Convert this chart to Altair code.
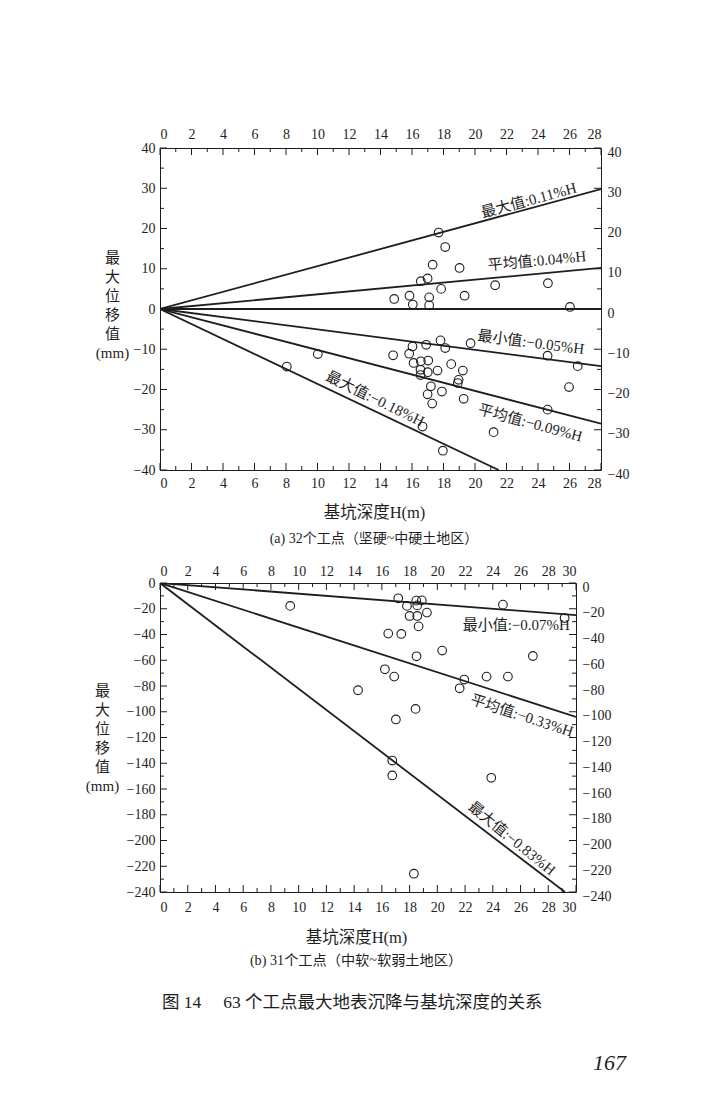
import altair as alt
import pandas as pd

SERIF = "Liberation Serif, Noto Sans CJK SC"
INK = "#1e1e1e"

# ---------------- (a) 32 sites, hard soil ----------------
a_H = [17.69, 18.11, 17.31, 19.02, 16.56, 16.99, 17.85, 21.28, 24.63, 14.87, 15.84, 16.05,
       17.09, 17.09, 19.34, 26.03,
       8.05, 10.02, 14.80, 16.03, 15.82, 16.90, 17.81, 18.11, 19.72, 24.61, 26.52, 16.10,
       16.56, 17.03, 18.49, 16.54, 17.00, 17.62, 19.23, 16.54, 18.96, 18.91, 17.20, 16.99,
       17.90, 17.28, 19.28, 25.97, 24.61, 16.67, 21.18, 17.96]
a_D = [19.0, 15.4, 11.0, 10.2, 6.9, 7.6, 5.0, 5.9, 6.4, 2.5, 3.3, 1.1,
       2.9, 0.9, 3.3, 0.5,
       -14.3, -11.2, -11.5, -9.3, -11.1, -8.9, -7.8, -9.7, -8.5, -11.6, -14.2, -13.4,
       -13.0, -12.8, -13.7, -15.1, -15.7, -15.3, -15.3, -16.4, -17.6, -18.4, -19.2, -21.2,
       -20.5, -23.5, -22.3, -19.4, -25.0, -29.2, -30.6, -35.2]
a_line_names = ["max+", "avg+", "zero", "min-", "avg-", "max-"]
a_line_endH = [28, 28, 28, 28, 28, 21.5]
a_line_endD = [29.8, 10.2, 0.0, -14.2, -28.5, -40.0]
a_note_text = ["最大值:0.11%H", "平均值:0.04%H", "最小值:−0.05%H", "平均值:−0.09%H", "最大值:−0.18%H"]
a_note_H = [23.42, 23.93, 23.55, 23.51, 13.66]
a_note_D = [27.0, 12.0, -8.3, -28.3, -22.3]
a_note_angle = [344.8, 354.7, 7.3, 15.0, 26.0]
a_x_major = [0, 2, 4, 6, 8, 10, 12, 14, 16, 18, 20, 22, 24, 26, 28]
a_x_minor = [1, 3, 5, 7, 9, 11, 13, 15, 17, 19, 21, 23, 25, 27]
a_y_major = [-40, -30, -20, -10, 0, 10, 20, 30, 40]
a_y_minor = [-35, -25, -15, -5, 5, 15, 25, 35]

# ---------------- (b) 31 sites, soft soil ----------------
b_H = [9.39, 17.18, 17.81, 18.48, 18.88, 18.55, 18.00, 18.55, 19.25, 18.65, 24.73, 29.18,
       16.46, 17.40, 20.35, 18.50, 26.89, 16.22, 16.89, 21.94, 23.55, 25.09, 21.61, 14.28,
       18.43, 17.01, 16.75, 16.75, 23.89, 18.31]
b_D = [-17.8, -11.9, -17.8, -13.7, -13.5, -17.4, -25.6, -25.6, -23.0, -33.7, -16.8, -27.2,
       -39.3, -39.6, -52.5, -56.9, -56.7, -67.0, -72.7, -75.0, -72.7, -72.7, -81.8, -83.3,
       -97.8, -106.0, -137.9, -149.5, -151.3, -225.8]
b_line_names = ["min", "avg", "max"]
b_line_endH = [30, 30, 29.2]
b_line_endD = [-25.0, -104.0, -240.0]
b_note_text = ["最小值:−0.07%H", "平均值:−0.33%H", "最大值:−0.83%H"]
b_note_H = [25.69, 26.1, 25.38]
b_note_D = [-32.4, -103.0, -198.4]
b_note_angle = [0.0, 18.0, 39.0]
b_x_major = [0, 2, 4, 6, 8, 10, 12, 14, 16, 18, 20, 22, 24, 26, 28, 30]
b_x_minor = [1, 3, 5, 7, 9, 11, 13, 15, 17, 19, 21, 23, 25, 27, 29]
b_y_major = [-240, -220, -200, -180, -160, -140, -120, -100, -80, -60, -40, -20, 0]
b_y_minor = [-230, -210, -190, -170, -150, -130, -110, -90, -70, -50, -30, -10]

Y_TITLE = ["最", "大", "位", "移", "值", "(mm)"]
X_TITLE = "基坑深度H(m)"
CAP_A = "(a) 32个工点（坚硬~中硬土地区）"
CAP_B = "(b) 31个工点（中软~软弱土地区）"
FIG_CAP = "图 14　 63 个工点最大地表沉降与基坑深度的关系"
PAGE_NO = "167"


def panel(H_, D_, lnames, lendH, lendD, ntext, nH, nD, nang,
          xdom, ydom, xmaj, xmin, ymaj, ymin, W, Ht,
          ytx, yty, xtx, xty, top_pad, bot_pad, texts):
    xs = alt.Scale(domain=xdom, nice=False, zero=False)
    ys = alt.Scale(domain=ydom, nice=False, zero=False)
    x0, x1 = xdom
    y0, y1 = ydom

    pts = pd.DataFrame({"H": H_, "D": D_})
    rows = []
    for n, eh, ed in zip(lnames, lendH, lendD):
        rows.append({"name": n, "H": 0, "D": 0, "o": 0})
        rows.append({"name": n, "H": eh, "D": ed, "o": 1})
    lines = pd.DataFrame(rows)
    notes = pd.DataFrame({"t": ntext, "H": nH, "D": nD, "a": nang})

    xn = alt.X("H:Q", scale=xs, axis=None)
    yn = alt.Y("D:Q", scale=ys, axis=None)

    line_layer = alt.Chart(lines).mark_line(color=INK, strokeWidth=1.8, clip=True).encode(
        x=xn, y=yn, detail="name:N", order="o:Q")
    pt_layer = alt.Chart(pts).mark_point(shape="circle", filled=False, size=75,
                                         color=INK, strokeWidth=1.1, opacity=1).encode(x=xn, y=yn)
    note_layer = alt.Chart(notes).mark_text(font=SERIF, fontSize=15, color=INK).encode(
        x=xn, y=yn, text="t:N", angle=alt.Angle("a:Q", scale=None))

    def vdf(v):
        return pd.DataFrame({"v": v})

    def xtick(vals, at, off, axis):
        return alt.Chart(vdf(vals)).mark_rule(color=INK, strokeWidth=1, y2Offset=off).encode(
            x=alt.X("v:Q", scale=xs, axis=axis),
            y=alt.Y(datum=at, scale=ys, axis=None), y2=alt.Y2(datum=at))

    def ytick(vals, at, off, axis):
        return alt.Chart(vdf(vals)).mark_rule(color=INK, strokeWidth=1, x2Offset=off).encode(
            y=alt.Y("v:Q", scale=ys, axis=axis),
            x=alt.X(datum=at, scale=xs, axis=None), x2=alt.X2(datum=at))

    ax_bottom = alt.Axis(orient="bottom", values=xmaj, format="d", labelPadding=bot_pad,
                         title=X_TITLE, titleX=xtx, titleY=xty, titleBaseline="middle",
                         titleAlign="center", titleFontSize=16.5)
    ax_top = alt.Axis(orient="top", values=xmaj, format="d", labelPadding=top_pad, title=None)
    ax_left = alt.Axis(orient="left", values=ymaj, format="d", labelPadding=5,
                       title=Y_TITLE, titleAngle=0, titleX=ytx, titleY=yty,
                       titleAlign="center", titleBaseline="top", titleLineHeight=19,
                       titleFontSize=15)
    ax_right = alt.Axis(orient="right", values=ymaj, format="d", labelPadding=6,
                        labelOffset=4, title=None)

    layers = [line_layer, pt_layer, note_layer,
              xtick(xmaj, y0, -7, ax_bottom), xtick(xmin, y0, -4, None),
              xtick(xmaj, y1, 7, ax_top), xtick(xmin, y1, 4, None),
              ytick(ymaj, x0, 7, ax_left), ytick(ymin, x0, 4, None),
              ytick(ymaj, x1, -7, ax_right), ytick(ymin, x1, -4, None)]
    for (txt, px, py, size, align, style) in texts:
        layers.append(alt.Chart(pd.DataFrame({"t": [txt]})).mark_text(
            font=SERIF, fontSize=size, align=align, baseline="middle", color=INK,
            fontStyle=style, dx=px, dy=py - Ht).encode(
            x=alt.X(datum=x0, scale=xs, axis=None),
            y=alt.Y(datum=y0, scale=ys, axis=None), text="t:N"))

    return alt.layer(*layers).resolve_axis(x="independent", y="independent").properties(
        width=W, height=Ht)


pa = panel(a_H, a_D, a_line_names, a_line_endH, a_line_endD,
           a_note_text, a_note_H, a_note_D, a_note_angle,
           [0, 28], [-40, 40], a_x_major, a_x_minor, a_y_major, a_y_minor, 441, 322,
           -48, 102, 214, 42, 7, 6,
           [(CAP_A, 214, 391, 14, "center", "normal")])

pb = panel(b_H, b_D, b_line_names, b_line_endH, b_line_endD,
           b_note_text, b_note_H, b_note_D, b_note_angle,
           [0, 30], [-240, 0], b_x_major, b_x_minor, b_y_major, b_y_minor, 416, 309,
           -58, 100, 196, 45, 5, 8,
           [(CAP_B, 196, 378, 14.2, "center", "normal"),
            (FIG_CAP, 2, 420, 17.5, "left", "normal"),
            (PAGE_NO, 466, 480, 22, "right", "italic")])

chart = alt.vconcat(pa, pb, spacing=16).properties(
    padding={"left": 76, "top": 118, "right": 5, "bottom": 5},
    background="white",
).configure_view(stroke=INK, strokeWidth=1).configure_axis(
    grid=False, domain=False, ticks=False,
    labelFont=SERIF, labelFontSize=14, labelColor=INK,
    titleFont=SERIF, titleFontWeight="normal", titleColor=INK,
)

chart.save("out.html", embed_options={"renderer": "svg", "actions": False})
